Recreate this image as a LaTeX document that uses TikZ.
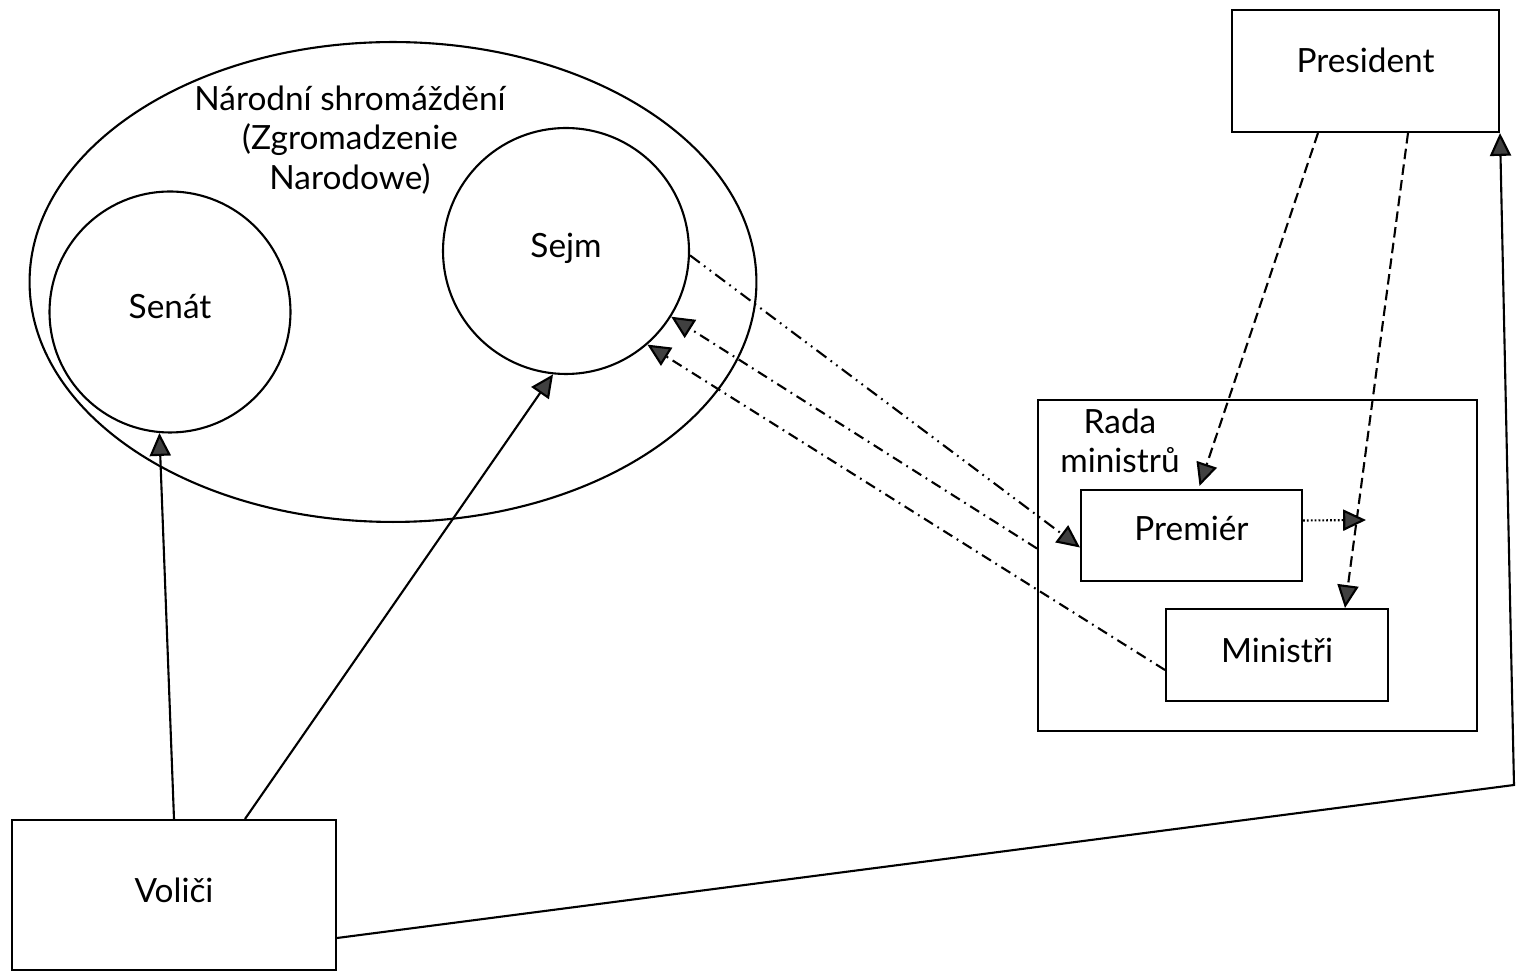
\documentclass[tikz,border=0pt]{standalone}
\usepackage{fontspec}
\setmainfont{Lato}
\usetikzlibrary{shapes.geometric,arrows.meta,calc}
\begin{document}
\begin{tikzpicture}[x=0.02cm,y=-0.02cm,
  line width=1.2pt,
  every node/.style={font=\fontsize{19}{22.5}\selectfont},
  box/.style={draw,rectangle,inner sep=0pt},
  ring/.style={draw,circle,inner sep=0pt},
  arr/.style={-{Triangle[length=13pt,width=12pt,fill=black!75]}},
  dashdot/.style={dash pattern=on 6pt off 3pt on 1pt off 3pt},
  dashdotdot/.style={dash pattern=on 7pt off 3pt on 1pt off 3pt on 1pt off 3pt},
  dashline/.style={dash pattern=on 6pt off 3pt},
  dotline/.style={dash pattern=on 1pt off 1.2pt}]
\useasboundingbox (0,0) rectangle (1516,972);
% shapes
\node[draw,ellipse,inner sep=0pt,minimum width=14.54cm,minimum height=9.6cm] (shrom) at (393,282) {};
\node[align=center] (shromlabel) at (350,140) {Národní shromáždění\\(Zgromadzenie\\Narodowe)};
\node[ring,minimum size=4.82cm,text depth=6pt] (senat) at (170,312) {Senát};
\node[ring,minimum size=4.92cm,text depth=6pt] (sejm) at (566,251) {Sejm};
\node[box,minimum width=5.34cm,minimum height=2.44cm,text depth=12pt] (president) at (1365.5,71) {President};
\node[box,minimum width=8.78cm,minimum height=6.62cm] (rada) at (1257.5,565.5) {};
\node[align=center] (radalabel) at (1120,441) {Rada\\ministrů};
\node[box,minimum width=4.42cm,minimum height=1.82cm,text depth=8pt] (premier) at (1191.5,535.5) {Premiér};
\node[box,minimum width=4.44cm,minimum height=1.84cm,text depth=5pt] (ministri) at (1277,655) {Ministři};
\node[box,minimum width=6.48cm,minimum height=3.0cm,text depth=5pt] (volici) at (174,895) {Voliči};
\coordinate (corner) at (1514,785);
\coordinate (dotend) at (1366,520);
% connectors
\draw[arr] (volici.north) -- (senat.-95.6);
\draw[arr] ($(volici.north)+(71,0)$) -- (sejm.-96.6);
\draw[arr] ($(volici.east)+(0,43)$) -- (corner) -- (president.south east);
\draw[arr,dashdotdot] (sejm.-2) -- ($(premier.west)+(0,12)$);
\draw[arr,dashdot] ($(rada.west)+(0,-17)$) -- (sejm.-32.5);
\draw[arr,dashdot] ($(ministri.west)+(0,15)$) -- (sejm.-49);
\draw[arr,dashline] ($(president.south)+(-47.5,0)$) -- ($(premier.north)+(8,-3)$);
\draw[arr,dashline] ($(president.south)+(42.5,0)$) -- ($(ministri.north)+(68,0)$);
\draw[arr,dotline] ($(premier.east)+(0,-15)$) -- (dotend);
\end{tikzpicture}
\end{document}
